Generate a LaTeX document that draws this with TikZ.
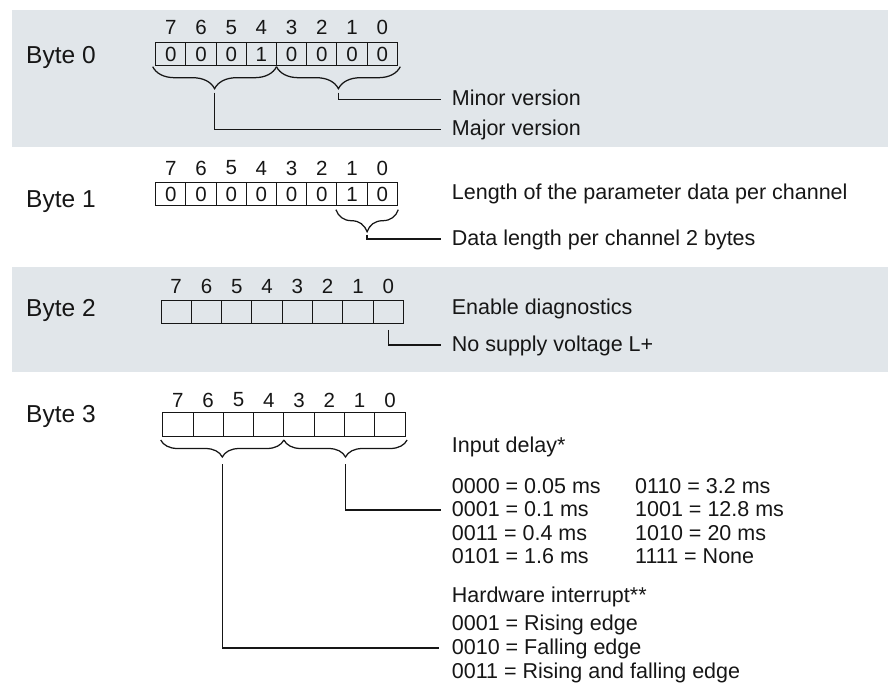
\documentclass[tikz,border=0pt]{standalone}
\usepackage{fontspec}
\setmainfont{Liberation Sans}
\usetikzlibrary{decorations.pathreplacing,calc}
\definecolor{band}{RGB}{225,230,234}
\definecolor{ink}{RGB}{22,22,22}
\begin{document}
\begin{tikzpicture}[x=1pt,y=-1pt,
  bitcell/.style={draw=ink, line width=0.9pt, minimum width=30.2pt, minimum height=23pt, inner sep=0pt, outer sep=0pt, font=\fontsize{20.5}{20.5}\selectfont, text=ink},
  bitnum/.style={font=\fontsize{20.5}{20.5}\selectfont, text=ink, inner sep=0pt},
  bytelbl/.style={font=\fontsize{24.5}{24.5}\selectfont, anchor=base west, inner sep=0pt, text=ink},
  lbl/.style={font=\fontsize{21.5}{21.5}\selectfont, anchor=base west, inner sep=0pt, text=ink},
  conn/.style={draw=ink, line width=1.25pt},
  brc/.style={draw=ink, line width=1.25pt, decorate, decoration={brace, mirror, amplitude=#1}},
]
\useasboundingbox (0,0) rectangle (888,688);
\fill[band] (12,10) rectangle (888,147);
\fill[band] (12,267) rectangle (888,372);

% Byte labels
\node[bytelbl] (byte0) at (26,63.5) {Byte 0};
\node[bytelbl] (byte1) at (26,207) {Byte 1};
\node[bytelbl] (byte2) at (26,316) {Byte 2};
\node[bytelbl] (byte3) at (26,422) {Byte 3};

% Byte 0 cells
\foreach \v [count=\n from 0] in {0,0,0,1,0,0,0,0} {
  \pgfmathtruncatemacro\bit{7-\n}
  \node[bitcell] (a\bit) at (155.7+15.1+\n*30.2,54.2) {\v};
  \node[bitnum] (na\bit) at (155.7+15.1+\n*30.2,27.7) {\bit};
}
% Byte 1 cells
\foreach \v [count=\n from 0] in {0,0,0,0,0,0,1,0} {
  \pgfmathtruncatemacro\bit{7-\n}
  \node[bitcell] (b\bit) at (155.7+15.1+\n*30.2,194.2) {\v};
  \node[bitnum] (nb\bit) at (155.7+15.1+\n*30.2,168) {\bit};
}
% Byte 2 cells
\foreach \n in {0,...,7} {
  \pgfmathtruncatemacro\bit{7-\n}
  \node[bitcell, minimum width=30.3pt] (c\bit) at (161+15.15+\n*30.3,311.7) {};
  \node[bitnum] (nc\bit) at (161+15.15+\n*30.3,286.7) {\bit};
}
% Byte 3 cells
\foreach \n in {0,...,7} {
  \pgfmathtruncatemacro\bit{7-\n}
  \node[bitcell, minimum width=30.3pt, minimum height=24pt] (d\bit) at (162.7+15.15+\n*30.3,424.7) {};
  \node[bitnum] (nd\bit) at (162.7+15.15+\n*30.3,400) {\bit};
}

% ---------- Byte 0 braces and connectors
\coordinate (a0L) at ([xshift=-3pt,yshift=-1pt]a7.south west);
\coordinate (a0M) at ([yshift=-1pt]a4.south east);
\coordinate (a0R) at ([xshift=3pt,yshift=-1pt]a0.south east);
\draw[brc=22] (a0L) -- (a0M);
\draw[brc=22] (a0M) -- (a0R);
\coordinate (a0tipH) at ($(a0L)!0.5!(a0M)+(0,26)$);
\coordinate (a0tipL) at ($(a0M)!0.5!(a0R)+(0,26)$);
\node[lbl] (minor) at (451.7,105.8) {Minor version};
\node[lbl] (major) at (451.7,135.8) {Major version};
\draw[conn] (a0tipL) |- ([xshift=-11pt,yshift=6.5pt]minor.base west);
\draw[conn] (a0tipH) |- ([xshift=-11pt,yshift=6.5pt]major.base west);

% ---------- Byte 1
\coordinate (b1L) at ([xshift=-1pt,yshift=-4pt]b1.south west);
\coordinate (b1R) at ([xshift=1pt,yshift=-4pt]b0.south east);
\draw[brc=22] (b1L) -- (b1R);
\coordinate (b1tip) at ($(b1L)!0.5!(b1R)+(0,25)$);
\node[lbl] (lenpar) at (451.7,199.2) {Length of the parameter data per channel};
\node[lbl] (datalen) at (451.7,245.5) {Data length per channel 2 bytes};
\draw[conn] (b1tip) |- ([xshift=-11pt,yshift=6.5pt]datalen.base west);

% ---------- Byte 2
\node[lbl] (enable) at (451.7,314.2) {Enable diagnostics};
\node[lbl] (nosupply) at (451.7,351.5) {No supply voltage L+};
\draw[conn] ([yshift=-6.7pt]c0.south) |- ([xshift=-11pt,yshift=6.5pt]nosupply.base west);

% ---------- Byte 3
\coordinate (d3L) at ([xshift=-2pt,yshift=-3.3pt]d7.south west);
\coordinate (d3M) at ([yshift=-3.3pt]d4.south east);
\coordinate (d3R) at ([xshift=2pt,yshift=-3.3pt]d0.south east);
\draw[brc=17] (d3L) -- (d3M);
\draw[brc=17] (d3M) -- (d3R);
\coordinate (d3tipH) at ($(d3L)!0.5!(d3M)+(0,24)$);
\coordinate (d3tipL) at ($(d3M)!0.5!(d3R)+(0,24)$);

\node[lbl] (indelay) at (451.7,452) {Input delay*};
\node[lbl] (r1) at (451.7,493) {0000 = 0.05 ms};
\node[lbl] (r2) at (451.7,516.5) {0001 = 0.1 ms};
\node[lbl] (r3) at (451.7,540) {0011 = 0.4 ms};
\node[lbl] (r4) at (451.7,563.5) {0101 = 1.6 ms};
\node[lbl] (s1) at (635,493) {0110 = 3.2 ms};
\node[lbl] (s2) at (635,516.5) {1001 = 12.8 ms};
\node[lbl] (s3) at (635,540) {1010 = 20 ms};
\node[lbl] (s4) at (635,563.5) {1111 = None};
\node[lbl] (hwint) at (451.7,602) {Hardware interrupt**};
\node[lbl] (h1) at (451.7,630.5) {0001 = Rising edge};
\node[lbl] (h2) at (451.7,654.5) {0010 = Falling edge};
\node[lbl] (h3) at (451.7,678.5) {0011 = Rising and falling edge};

\draw[conn] (d3tipL) |- ([xshift=-11pt,yshift=6.5pt]r2.base west);
\draw[conn] (d3tipH) |- ([xshift=-13pt,yshift=6.5pt]h2.base west);
\end{tikzpicture}
\end{document}
